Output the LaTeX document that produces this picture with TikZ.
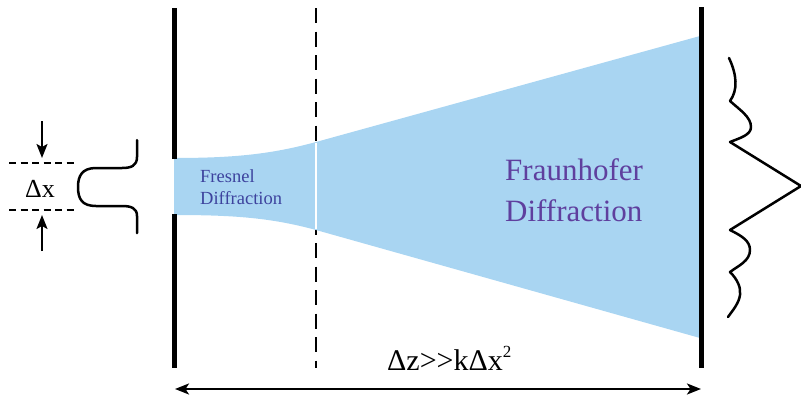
\documentclass[tikz,border=0pt]{standalone}
\usepackage{fontspec}
\setmainfont{Liberation Serif}
\usetikzlibrary{arrows.meta}
\definecolor{beamblue}{HTML}{A9D5F2}
\definecolor{fresnelc}{HTML}{3D439E}
\definecolor{fraunc}{HTML}{5F3F9E}
\begin{document}
\begin{tikzpicture}[x=1pt,y=-1pt,
  wall/.style={line width=5pt},
  screendash/.style={line width=2.6pt,dash pattern=on 15pt off 8.5pt},
  widthdash/.style={line width=1.7pt,dash pattern=on 7pt off 4.5pt},
  profile/.style={line width=2.5pt,line join=round,line cap=round},
  arr/.style={line width=2pt,-{Stealth[length=14pt,width=11pt,inset=3pt]}},
  dblarr/.style={line width=2.4pt,{Stealth[length=14pt,width=11pt,inset=3.5pt]}-{Stealth[length=14pt,width=11pt,inset=3.5pt]}},
  lbl/.style={inner sep=0pt,anchor=base west}
]
\useasboundingbox (0,0) rectangle (801,399);

% dashed intermediate plane
\coordinate (dtop) at (316,8);
\coordinate (dbot) at (316,368);
\draw[screendash] (dtop) -- (dbot);

% beam
\fill[beamblue] (174,158) .. controls (235,158) and (272,154) .. (316,142)
  -- (700,36) -- (700,338) -- (316,230)
  .. controls (272,218) and (235,215) .. (174,215) -- cycle;
\draw[white,line width=1.2pt] (316,143) -- (316,229);

% walls
\coordinate (lwt) at (174,8);
\coordinate (lwa) at (174,159);
\coordinate (lwb) at (174,214);
\coordinate (lwe) at (174,368);
\draw[wall] (lwt) -- (lwa);
\draw[wall] (lwb) -- (lwe);
\coordinate (rwt) at (701,7);
\coordinate (rwe) at (701,368);
\draw[wall] (rwt) -- (rwe);

% width markers
\draw[widthdash] (9,163) -- (78,163);
\draw[widthdash] (9,210) -- (78,210);
\coordinate (at1) at (42,121);
\coordinate (at2) at (42,158);
\coordinate (ab1) at (42,251);
\coordinate (ab2) at (42,215);
\draw[arr] (at1) -- (at2);
\draw[arr] (ab1) -- (ab2);
\node[inner sep=0pt,anchor=base,font=\fontsize{26}{30}\selectfont] (dx) at (40,197) {Δx};

% input profile
\draw[profile] (137,140) -- (137,157)
  .. controls (137,166) and (131,168) .. (122,168) -- (96,168)
  .. controls (82,168) and (78,176) .. (78,187)
  .. controls (78,199) and (82,206) .. (96,206) -- (122,206)
  .. controls (131,206) and (137,208) .. (137,216) -- (137,233);

% output profile
\draw[profile] (729,58) .. controls (737,75) and (738,90) .. (730,101)
  .. controls (740,110) and (751,117) .. (751,127)
  .. controls (751,135) and (740,138) .. (730,142)
  -- (801,186) -- (730,230)
  .. controls (742,236) and (750,241) .. (750,250)
  .. controls (750,261) and (738,266) .. (730,272)
  .. controls (738,280) and (741,288) .. (740,295)
  .. controls (739,303) and (733,310) .. (728,317);

% labels
\node[lbl,text=fresnelc,font=\fontsize{18.5}{22}\selectfont] (fr1) at (200,182) {Fresnel};
\node[lbl,text=fresnelc,font=\fontsize{18.5}{22}\selectfont] (fr2) at (200,204) {Diffraction};
\node[lbl,text=fraunc,font=\fontsize{31}{41}\selectfont] (fh1) at (505,180) {Fraunhofer};
\node[lbl,text=fraunc,font=\fontsize{31}{41}\selectfont] (fh2) at (505,221) {Diffraction};
\node[lbl,font=\fontsize{30}{34}\selectfont] (dz) at (387,370) {Δz>\kern0pt>kΔx\raisebox{0.42em}{\fontsize{17}{20}\selectfont 2}};

% distance arrow
\coordinate (da) at (175,389);
\coordinate (db) at (701,389);
\draw[dblarr] (da) -- (db);
\end{tikzpicture}
\end{document}
